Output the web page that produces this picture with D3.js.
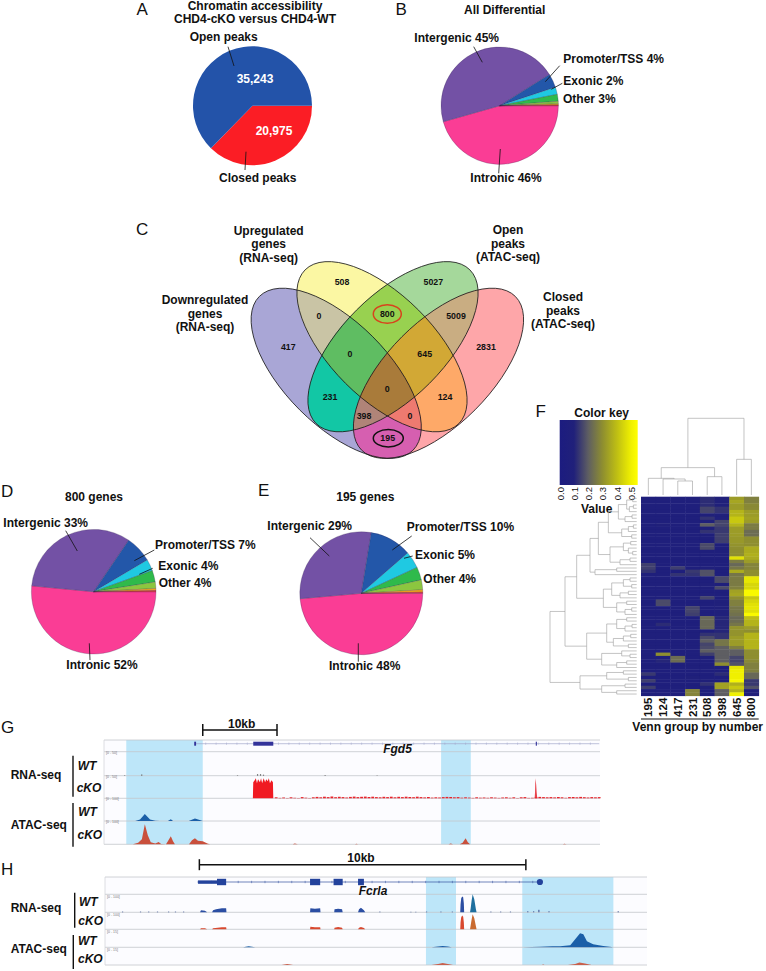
<!DOCTYPE html>
<html>
<head>
<meta charset="utf-8">
<script src="https://cdnjs.cloudflare.com/ajax/libs/d3/7.8.5/d3.min.js"></script>
<style>
body { margin: 0; background: #fff; }
text { font-family: "Liberation Sans", Arial, sans-serif; font-weight: bold; font-size: 12px; fill: #111; }
.letter { font-weight: normal; font-size: 17px; }
.count { font-size: 8.8px; }
.tiny { font-weight: normal; font-size: 3.5px; fill: #777; }
</style>
</head>
<body>
<script>
// pie slices, clockwise from 3 o'clock
var pieColors = ["#fa3d95", "#7351a5", "#2357a9", "#1fc9e2", "#2fba4b", "#8cc63f", "#f7a81b", "#ed1c24"];
var pieB = [45.6, 45.5, 3.8, 2, 1.9, 0.7, 0.3, 0.2];
var pieD = [51.5, 33, 7, 3, 3, 1.7, 0.5, 0.3];
var pieE = [48.6, 29, 11, 4.5, 3.4, 2.6, 0.6, 0.3];
var pieA = [20975, 35243];
var pieAColors = ["#fb1d25", "#2353a9"];

// venn
var vennCounts = [508, 5027, 0, 800, 5009, 417, 0, 645, 2831, 231, 0, 124, 398, 0, 195];
var vennCountPos = [[342, 282], [433.3, 282], [319, 316], [387.3, 314], [456, 316], [288.3, 346.7], [350, 354], [424.7, 354], [486, 346.7], [330, 396.7], [387.3, 388.7], [445, 396.7], [364, 416], [410, 416], [387.7, 438]];
var vennSets = ["a", "y", "g", "p"];
var vennEllipses = { a: [336.2, 373.3, 45], y: [382, 346.7, 45], g: [393, 346.7, -45], p: [438.5, 373.3, -45] };
var vennRegions = ["a", "y", "g", "p", "ay", "yg", "gp", "ag", "yp", "ap", "ayg", "ygp", "agp", "ayp", "aygp"];
var vennRegionColors = ["#a9a6d6", "#fbf7a3", "#a5d89b", "#fea6a9", "#c9c4a5", "#98d150", "#c9ad82", "#12c7a5", "#fea968", "#d65fb0", "#5fbd62", "#d2a835", "#b08478", "#ee7a70", "#a97b3a"];

// heatmap columns, 60 rows each
var heatCols = ["195", "124", "417", "231", "508", "398", "645", "800"];
var heat195 = [.07,.07,.07,.07,.07,.07,.07,.07,.07,.07,
  .07,.07,.07,.07,.07,.07,.07,.07,.07,.08,
  .15,.15,.13,.07,.07,.07,.07,.07,.07,.07,
  .07,.07,.07,.07,.07,.07,.07,.07,.07,.07,
  .07,.07,.07,.07,.07,.07,.07,.07,.07,.07,
  .07,.07,.07,.14,.07,.15,.07,.15,.07,.07];
var heat124 = [.07,.07,.07,.07,.07,.07,.07,.07,.1,.07,
  .07,.07,.07,.07,.07,.07,.07,.07,.07,.07,
  .07,.07,.07,.07,.07,.07,.07,.07,.07,.07,
  .07,.17,.17,.07,.07,.07,.07,.07,.12,.07,
  .07,.07,.07,.07,.07,.07,.07,.3,.07,.11,
  .07,.07,.07,.07,.07,.07,.07,.07,.07,.07];
var heat417 = [.07,.07,.07,.07,.07,.07,.07,.07,.07,.07,
  .07,.07,.07,.07,.07,.07,.07,.07,.07,.07,
  .07,.15,.07,.13,.07,.07,.07,.07,.07,.07,
  .07,.07,.07,.07,.07,.07,.07,.07,.07,.07,
  .07,.07,.07,.07,.07,.07,.07,.07,.23,.23,
  .07,.07,.07,.07,.07,.07,.07,.07,.07,.07];
var heat231 = [.07,.07,.07,.07,.07,.07,.07,.07,.07,.07,
  .07,.07,.07,.07,.07,.07,.07,.07,.07,.07,
  .07,.07,.14,.13,.07,.07,.07,.07,.07,.07,
  .07,.07,.07,.16,.16,.15,.07,.07,.07,.07,
  .07,.07,.07,.07,.07,.07,.07,.07,.07,.07,
  .07,.07,.07,.07,.1,.07,.07,.07,.28,.28];
var heat508 = [.12,.12,.12,.16,.16,.09,.13,.09,.2,.1,
  .13,.08,.08,.08,.17,.17,.07,.07,.07,.07,
  .07,.09,.18,.18,.08,.07,.09,.08,.07,.09,
  .16,.07,.07,.07,.07,.07,.22,.22,.22,.22,
  .09,.13,.17,.2,.16,.17,.2,.15,.09,.07,
  .07,.07,.07,.07,.07,.1,.13,.1,.07,.07];
var heat398 = [.1,.1,.1,.13,.13,.09,.09,.16,.16,.14,
  .14,.15,.15,.15,.07,.07,.07,.07,.07,.07,
  .07,.07,.07,.07,.17,.17,.07,.17,.07,.07,
  .07,.09,.09,.09,.09,.09,.11,.11,.11,.11,
  .11,.13,.13,.25,.25,.2,.2,.2,.2,.2,
  .3,.07,.07,.12,.07,.07,.34,.34,.2,.2];
var heat645 = [.33,.35,.33,.33,.38,.38,.42,.42,.38,.33,
  .33,.33,.32,.32,.31,.3,.3,.3,.47,.26,
  .22,.25,.36,.25,.26,.26,.26,.27,.34,.35,
  .3,.27,.27,.25,.25,.24,.22,.23,.25,.31,
  .31,.31,.33,.33,.33,.27,.2,.2,.16,.16,
  .18,.48,.5,.5,.5,.52,.37,.42,.38,.5];
var heat800 = [.27,.27,.29,.29,.33,.33,.34,.33,.26,.26,
  .23,.23,.3,.3,.3,.36,.36,.37,.36,.33,
  .28,.28,.3,.3,.48,.48,.45,.45,.53,.53,
  .42,.45,.47,.48,.47,.53,.4,.38,.38,.33,
  .3,.38,.38,.38,.38,.38,.3,.3,.3,.29,
  .27,.27,.27,.22,.22,.14,.14,.18,.09,.09];
var heatData = [heat195, heat124, heat417, heat231, heat508, heat398, heat645, heat800];
var keyTicks = [0, .1, .2, .3, .4, .5];

// dendrograms: [merge height, child, child], 0 = leaf
var colTree = [230, [82, [50, 0, [48, 0, [42, 0, 0]]], [55, 0, 0]], [107, 0, 0]];
var rowTree = [260,
  [215,
    [180,
      [140,
        [115,
          [85, [55, [30, [12, 0, 0], [22, [10, 0, 0], 0]], [35, [14, 0, 0], 0]], [45, [25, [10, 0, 0], 0], [15, 0, 0]]],
          [80, [40, [18, 0, 0], [25, 0, [12, 0, 0]]], [50, [20, 0, 0], 0]]],
        [125, [60, 0, 0], 0]],
      [100, [75, [40, [20, 0, 0], [15, 0, 0]], [50, [25, 0, 0], 0]], [60, [30, 0, 0], [35, [15, 0, 0], 0]]]],
    [150,
      [90, [60, [30, 0, 0], [35, [14, 0, 0], 0]], [70, [40, [18, 0, 0], 0], [25, 0, 0]]],
      [105, [45, 0, [20, 0, 0]], [60, [30, 0, 0], 0]]]],
  [170, [90, [40, 0, 0], [25, 0, 0]], [105, [35, 0, 0], [60, 0, 0]]]];

// panel G tracks: [kb, height]
var gShade = [[3, 13.3], [45.4, 49.4]];
var gExons = [[12.15, 12.4], [20.1, 22.8], [58.15, 58.3]];
var gRnaWt = [[2.7, .5], [5, 1.2], [17.9, .5], [20.6, 1.5], [21, 1.5], [21.4, 1], [29.7, .7], [36.7, .4]];
var gRnaKoBlock = [[20.05, 0], [20.1, 16], [20.3, 18], [20.45, 20], [20.6, 15], [20.75, 19], [21, 16], [21.15, 20], [21.3, 15], [21.5, 20], [21.7, 16], [21.85, 19], [22.05, 17], [22.2, 20], [22.35, 15], [22.55, 18], [22.75, 16], [22.8, 0]];
var gRnaKoSpike = [[58, 0], [58.05, 6], [58.1, 20], [58.2, 14], [58.27, 6], [58.35, 0]];
var gRnaKoNoise = [1, .4, .8, .3, 1, .5, .3, 1.2, .6, .3, 1, 1.4, 1, 1.6, 1.2, 1.8, 1.1, 1.5, 1.2, .8,
  1.4, 1.7, 1.2, 1.5, 1.7, 1.3, 1.6, 1.2, 1, 1.5, 1.2, 1.6, 1, 1.5, 1.2, 1.6, 1.3, 1.1, 1.6, 1.2,
  .9, 1.3, .7, 1, .8, 1.2, 1.4, 1.3, 1, 1.2, .6, 1, .7, .4, 1, .6, .8, .5, 1, .7,
  .4, .8, 1, .5, 1, .3, 1, 1.2, .4, .5, 1.1, 1.4, 1.2, 1, 1.2, .9, 1.3, 1, .5, 1.2,
  1.3, 1, 1.4, 1.1, .8, 1.2, 1, 1.2];
var gAtacWt = [[4.2, 0], [4.85, 1.5], [5.5, 7], [6.2, 1.5], [6.9, .3], [7.5, 0], [8.6, 0], [9, 1.8], [9.3, 0], [11.4, 0], [12.25, 2.5], [13.3, 0]];
var gAtacKo = [[3.9, 0], [4.6, 1.5], [5.1, 5], [5.5, 20], [5.9, 9], [6.3, 2], [6.9, .8], [7, 1], [7.35, 2.2], [7.7, .3], [8.35, 0], [8.6, 3], [9, 8], [9.3, 3], [9.55, 0],
  [11.45, 0], [11.85, 4], [12.25, 6], [12.65, 3.5], [13.3, 3], [14, .5], [14.3, 0], [25.4, 0], [25.7, .8], [26.1, 0], [33.8, 0], [34, .5], [34.2, 0],
  [46.4, 0], [46.7, .7], [47, 0], [47.9, 0], [48.3, 1.5], [48.7, 6], [49, 2], [49.3, 0], [61.8, 0], [62, .5], [62.3, 0]];

// panel H tracks: [kb, height]
var hShade = [[9.83, 10.75], [12.78, 15.57]];
var hExons = [[2.85, 3.43, 1], [3.43, 3.71, 2], [6.28, 6.59, 2], [7, 7.28, 2], [7.75, 7.93, 2]];
var hEndExon = 13.32;
var hRnaWt = [[2.91, 0], [2.94, 2], [3.06, 1.5], [3.13, 0], [3.28, 0], [3.31, 2], [3.4, 3], [3.49, 3.5], [3.58, 4], [3.71, 4], [3.72, 0],
  [6.28, 0], [6.29, 4], [6.43, 3.5], [6.59, 4], [6.6, 0], [7.02, 0], [7.03, 3], [7.14, 3.5], [7.26, 3], [7.28, 0],
  [7.75, 0], [7.78, 3], [7.84, 4.5], [7.93, 2], [7.97, 0], [10.88, 0], [10.89, 8], [10.91, 14], [10.94, 15.7], [10.97, 15], [10.99, 9], [11, 0]];
var hRnaWtPeak2 = [[11.18, 0], [11.2, 4], [11.23, 12], [11.26, 18], [11.31, 13], [11.36, 3], [11.38, 0]];
var hRnaWtNoise = [[.52, .7], [1.07, .7], [1.32, .7], [1.59, .7], [1.93, .7], [2.14, .7], [2.39, .7], [8.4, .7], [9.35, .5], [9.5, .5], [9.83, .7], [10.27, .7], [10.62, .7],
  [11.8, .7], [12.1, .7], [12.4, .7], [12.93, 1], [13.11, 1], [13.27, 2.5], [13.58, 1], [15.7, 1]];
var hRnaKo = [[2.91, 0], [2.94, 1], [3.06, 1], [3.13, 0], [3.28, 0], [3.31, 1], [3.45, 1.6], [3.58, 2], [3.71, 2], [3.72, 0],
  [6.28, 0], [6.29, 2.5], [6.43, 2], [6.59, 2], [6.6, 0], [7.02, 0], [7.03, 1.6], [7.14, 2.2], [7.26, 1.6], [7.28, 0],
  [7.75, 0], [7.78, 1.5], [7.84, 2.2], [7.93, 1.2], [7.97, 0], [10.88, 0], [10.89, 7], [10.91, 12], [10.94, 13.7], [10.97, 12.5], [10.99, 7], [11, 0]];
var hRnaKoPeak2 = [[11.18, 0], [11.2, 4], [11.23, 10], [11.26, 15], [11.31, 11], [11.36, 3], [11.38, 0]];
var hAtacWt = [[4.23, 0], [4.4, 1], [4.6, 0], [10, 0], [10.2, .8], [10.34, 1.2], [10.5, .7], [10.62, 0], [12.8, 0], [13.33, .6], [13.7, 1], [13.94, 1], [14.25, 2], [14.45, 10], [14.55, 14], [14.65, 13], [14.76, 6], [14.95, 3], [15.26, 1.2], [15.52, .3], [15.55, 0]];
var hAtacKo = [[5.41, 0], [5.58, 1], [5.76, 0], [10, 0], [10.2, 1], [10.34, 2], [10.5, 1], [10.66, 0], [13.38, 0], [13.42, .5], [13.46, 0], [14.18, 0], [14.4, 1], [14.53, 2.5], [14.7, 1.4], [14.9, 0]];
</script>
<script>
var width = 766, height = 971;
var svg = d3.select("body").append("svg")
    .attr("width", width)
    .attr("height", height)
    .style("display", "block");

function addText(parent, x, y, str, anchor, cls, style) {
    var t = parent.append("text").attr("x", x).attr("y", y)
        .attr("text-anchor", anchor || "start").text(str);
    if (cls) t.attr("class", cls);
    if (style) t.attr("style", style);
    return t;
}

function addLines(lines, w) {
    svg.append("g").selectAll("line").data(lines).enter().append("line")
        .attr("x1", function(d) { return d[0]; })
        .attr("y1", function(d) { return d[1]; })
        .attr("x2", function(d) { return d[2]; })
        .attr("y2", function(d) { return d[3]; })
        .attr("stroke", "#111")
        .attr("stroke-width", w);
}

// ---- pies ----
function drawPie(values, colors, cx, cy, r, strokeW) {
    var pie = d3.pie().sort(null).value(function(d) { return d; })
        .startAngle(Math.PI / 2).endAngle(Math.PI * 2.5);
    var arc = d3.arc().innerRadius(0).outerRadius(r);
    svg.append("g").attr("transform", "translate(" + cx + "," + cy + ")")
        .selectAll("path").data(pie(values)).enter().append("path")
        .attr("d", arc)
        .attr("fill", function(d, i) { return colors[i]; })
        .attr("stroke", "#33264d")
        .attr("stroke-width", strokeW);
}

drawPie(pieA, pieAColors, 252.5, 105.7, 59.5, 0);
drawPie(pieB, pieColors, 499.7, 105.7, 58.7, 0.25);
drawPie(pieD, pieColors, 93.7, 591.7, 62.3, 0.25);
drawPie(pieE, pieColors, 361.3, 593.3, 61.5, 0.25);

addLines([[228, 46.7, 234, 66], [246, 151.7, 245, 170],
    [473.7, 46.7, 482.3, 62.3], [559.7, 65.7, 545.3, 81.7], [562.3, 83.3, 551.3, 89.3], [500.3, 149, 498.7, 173.3],
    [65.7, 530.7, 77.3, 551], [154.3, 550, 134.3, 560.7], [152.7, 568.3, 139.3, 574.3], [89.3, 643.3, 90, 660],
    [310, 537.7, 329.3, 556], [411.7, 536, 392.3, 550], [412.7, 556, 404, 558.3], [358.3, 643.3, 358.3, 661.7]], 0.8);

var labels = [
    ["Chromatin accessibility", 255, 10, "middle"], ["CHD4-cKO versus CHD4-WT", 255, 23, "middle"],
    ["Open peaks", 223.7, 40.7, "middle"], ["Closed peaks", 257.7, 181.7, "middle"],
    ["All Differential", 504.7, 14.3, "middle"], ["Intergenic 45%", 456.7, 41.7, "middle"],
    ["Promoter/TSS 4%", 563.3, 63.3], ["Exonic 2%", 563.3, 85], ["Other 3%", 563, 102.7], ["Intronic 46%", 506, 182, "middle"],
    ["Upregulated", 268.7, 235, "middle"], ["genes", 268.7, 248.3, "middle"], ["(RNA-seq)", 268.7, 261.7, "middle"],
    ["Open", 508, 234, "middle"], ["peaks", 508, 247.6, "middle"], ["(ATAC-seq)", 508, 261, "middle"],
    ["Downregulated", 205, 304.3, "middle"], ["genes", 205, 317.7, "middle"], ["(RNA-seq)", 205, 331.3, "middle"],
    ["Closed", 563, 301, "middle"], ["peaks", 563, 314.7, "middle"], ["(ATAC-seq)", 563, 328, "middle"],
    ["800 genes", 94, 501, "middle"], ["Intergenic 33%", 3.3, 527.3], ["Promoter/TSS 7%", 155, 549.3],
    ["Exonic 4%", 158.3, 570], ["Other 4%", 158.7, 586.7], ["Intronic 52%", 102, 668.7, "middle"],
    ["195 genes", 365.3, 500.7, "middle"], ["Intergenic 29%", 267.3, 530], ["Promoter/TSS 10%", 406.7, 530.7],
    ["Exonic 5%", 415, 559.3], ["Other 4%", 423.3, 582.7], ["Intronic 48%", 364.7, 670, "middle"],
    ["Color key", 601.7, 417, "middle"], ["Value", 596.7, 512.7, "middle"], ["Venn group by number", 697.7, 730.7, "middle"],
    ["10kb", 241.7, 727.5, "middle"], ["RNA-seq", 10.7, 779], ["ATAC-seq", 10.7, 828.5],
    ["10kb", 361, 862, "middle"], ["RNA-seq", 10.7, 912], ["ATAC-seq", 10.7, 953]
];
labels.forEach(function(d) { addText(svg, d[1], d[2], d[0], d[3]); });

addText(svg, 255, 82.7, "35,243", "middle", null, "fill:#fff");
addText(svg, 274, 135, "20,975", "middle", null, "fill:#fff");

var letters = [["A", 136.5, 15], ["B", 395.5, 15], ["C", 136, 235], ["D", 1, 496.7], ["E", 258, 496], ["F", 535.5, 417.3], ["G", 1, 733], ["H", 1, 875]];
letters.forEach(function(d) { addText(svg, d[1], d[2], d[0], "start", "letter"); });

// ---- venn ----
var defs = svg.append("defs");
function ellipseAttrs(sel, k) {
    var e = vennEllipses[k];
    sel.attr("cx", e[0]).attr("cy", e[1]).attr("rx", 108.7).attr("ry", 51.7)
        .attr("transform", "rotate(" + e[2] + " " + e[0] + " " + e[1] + ")");
}
vennSets.forEach(function(k) {
    defs.append("clipPath").attr("id", "clip-" + k).append("ellipse").call(ellipseAttrs, k);
});
var venn = svg.append("g");
vennRegions.forEach(function(r, i) {
    var holder = venn;
    r.split("").forEach(function(k) { holder = holder.append("g").attr("clip-path", "url(#clip-" + k + ")"); });
    holder.append("rect").attr("x", 240).attr("y", 250).attr("width", 300).attr("height", 220)
        .attr("fill", vennRegionColors[i]);
});
vennSets.forEach(function(k) {
    venn.append("ellipse").call(ellipseAttrs, k).attr("fill", "none").attr("stroke", "#1a1a1a").attr("stroke-width", 0.8);
});
vennCounts.forEach(function(c, i) {
    addText(venn, vennCountPos[i][0], vennCountPos[i][1] + 3, c, "middle", "count");
});
venn.append("ellipse").attr("cx", 387.3).attr("cy", 314).attr("rx", 14).attr("ry", 9.3)
    .attr("fill", "none").attr("stroke", "#d8431c").attr("stroke-width", 1.5);
venn.append("ellipse").attr("cx", 388.3).attr("cy", 438.3).attr("rx", 15).attr("ry", 8.7)
    .attr("fill", "none").attr("stroke", "#111").attr("stroke-width", 1.5);

// ---- heatmap ----
var heatColor = d3.scaleLinear()
    .domain([0, .1, .2, .3, .4, .5, .55])
    .range(["#1c1c80", "#20207a", "#5e5e62", "#8e8e30", "#bebe14", "#f0f000", "#ffff00"])
    .clamp(true);
var colBand = d3.scaleBand().domain(heatCols).range([641, 758.7]);
var rowBand = d3.scaleBand().domain(d3.range(60)).range([496.7, 695.7]);

var heatGroup = svg.append("g").style("filter", "blur(0.5px)");
heatData.forEach(function(col, c) {
    heatGroup.append("g").selectAll("rect").data(col).enter().append("rect")
        .attr("x", colBand(heatCols[c]))
        .attr("y", function(d, i) { return rowBand(i); })
        .attr("width", colBand.bandwidth() + 0.4)
        .attr("height", rowBand.bandwidth() + 0.4)
        .attr("fill", function(d) { return heatColor(d); });
});

var colAxis = svg.append("g").attr("transform", "translate(0,695.7)")
    .call(d3.axisBottom(colBand).tickSize(0));
colAxis.select(".domain").remove();
colAxis.selectAll("text").attr("transform", "rotate(-90)")
    .attr("x", -2).attr("y", 0).attr("dy", "0.35em")
    .attr("text-anchor", "end").style("font-size", "11.5px").style("font-family", "Liberation Sans");
svg.append("line").attr("x1", 641).attr("x2", 758.7).attr("y1", 719).attr("y2", 719)
    .attr("stroke", "#111").attr("stroke-width", 1.2);

// colour key
var keyScale = d3.scaleLinear().domain([0, .5]).range([559.7, 631]);
var grad = defs.append("linearGradient").attr("id", "key-grad");
d3.range(0, 0.56, 0.05).forEach(function(v) {
    grad.append("stop").attr("offset", (keyScale(v) - 559.7) / 78).attr("stop-color", heatColor(v));
});
svg.append("rect").attr("x", 559.7).attr("y", 420).attr("width", 78).attr("height", 65).attr("fill", "url(#key-grad)");
var keyAxis = svg.append("g").attr("transform", "translate(0,485)")
    .call(d3.axisBottom(keyScale).tickValues(keyTicks).tickSize(0).tickFormat(d3.format(".1f")));
keyAxis.select(".domain").remove();
keyAxis.selectAll("text").attr("transform", "rotate(-90)")
    .attr("x", -2).attr("y", 0).attr("dy", "0.35em")
    .attr("text-anchor", "end")
    .style("font-size", "9.5px").style("font-weight", "normal").style("font-family", "Liberation Sans");

// dendrograms
function toNode(n) {
    return n === 0 ? { h: 0 } : { h: n[0], children: [toNode(n[1]), toNode(n[2])] };
}
function drawDendro(tree, leafPos, toPath) {
    var root = d3.hierarchy(toNode(tree));
    var idx = 0;
    root.eachAfter(function(d) {
        if (!d.children) { d.pos = leafPos(idx++); }
        else { d.pos = (d.children[0].pos + d.children[1].pos) / 2; }
    });
    svg.append("g").selectAll("path").data(root.descendants().filter(function(d) { return d.children; }))
        .enter().append("path")
        .attr("d", toPath)
        .attr("fill", "none")
        .attr("stroke", "#9c9c9c")
        .attr("stroke-width", 0.6);
}
var rowDist = d3.scaleLinear().domain([0, 260]).range([636.7, 550]);
drawDendro(rowTree, function(i) { return rowBand(i) + rowBand.bandwidth() / 2; }, function(d) {
    var a = d.children[0], b = d.children[1];
    return "M" + rowDist(a.data.h) + "," + a.pos + "H" + rowDist(d.data.h) + "V" + b.pos + "H" + rowDist(b.data.h);
});
var colDist = d3.scaleLinear().domain([0, 230]).range([495, 418.3]);
drawDendro(colTree, function(i) { return colBand(heatCols[i]) + colBand.bandwidth() / 2; }, function(d) {
    var a = d.children[0], b = d.children[1];
    return "M" + a.pos + "," + colDist(a.data.h) + "V" + colDist(d.data.h) + "H" + b.pos + "V" + colDist(b.data.h);
});

// ---- genome tracks ----
function drawPanel(x, baselines, top, shades) {
    var g = svg.append("g");
    var x0 = x.range()[0], x1 = x.range()[1], bottom = baselines[baselines.length - 1];
    g.append("rect").attr("x", x0).attr("y", top).attr("width", x1 - x0).attr("height", bottom - top).attr("fill", "#fcfcff");
    g.selectAll(".shade").data(shades).enter().append("rect").attr("class", "shade")
        .attr("x", function(d) { return x(d[0]); })
        .attr("y", top)
        .attr("width", function(d) { return x(d[1]) - x(d[0]); })
        .attr("height", bottom - top)
        .attr("fill", "#bde6f9");
    g.selectAll(".base").data([top].concat(baselines)).enter().append("line").attr("class", "base")
        .attr("x1", x0).attr("x2", x1)
        .attr("y1", function(d) { return d; }).attr("y2", function(d) { return d; })
        .attr("stroke", "#c4c6cc").attr("stroke-width", 0.8);
    g.append("line").attr("x1", x0).attr("x2", x0).attr("y1", top).attr("y2", bottom)
        .attr("stroke", "#d4d5da").attr("stroke-width", 0.8);
    return g;
}
function drawTrack(g, x, base, points, color) {
    var y = d3.scaleLinear().domain([0, 20]).range([base, base - 20]);
    var area = d3.area().x(function(d) { return x(d[0]); }).y0(base).y1(function(d) { return y(d[1]); });
    g.append("path").attr("d", area(points)).attr("fill", color);
}
function drawSpikes(g, x, base, points, color, w) {
    var y = d3.scaleLinear().domain([0, 20]).range([base, base - 20]);
    g.selectAll(null).data(points).enter().append("rect")
        .attr("x", function(d) { return x(d[0]); })
        .attr("y", function(d) { return y(d[1]); })
        .attr("width", w)
        .attr("height", function(d) { return base - y(d[1]); })
        .attr("fill", color);
}
function drawGeneLine(g, x, from, to, y, step, color) {
    g.append("line").attr("x1", x(from)).attr("x2", x(to)).attr("y1", y).attr("y2", y)
        .attr("stroke", color).attr("stroke-width", 0.7);
    g.selectAll(null).data(d3.range(from, to, step)).enter().append("line")
        .attr("x1", function(d) { return x(d); }).attr("x2", function(d) { return x(d); })
        .attr("y1", y - 1.2).attr("y2", y + 1.2)
        .attr("stroke", color).attr("stroke-width", 0.5);
}
function scaleBar(x, from, to, y, tick) {
    addLines([[x(from), y, x(to), y], [x(from), y - tick, x(from), y + tick], [x(to), y - tick, x(to), y + tick]], 1.5);
}

// panel G
var gx = d3.scaleLinear().domain([0, 66.8]).range([104, 600]);
var gBase = [751.7, 775.7, 798.3, 821, 844.3];
var gp = drawPanel(gx, gBase, 740, gShade);
drawGeneLine(gp, gx, 12.3, 66.7, 743.7, 1.4, "#a4a8cc");
gp.selectAll(null).data(gExons).enter().append("rect")
    .attr("x", function(d) { return gx(d[0]); })
    .attr("y", 741.7)
    .attr("width", function(d) { return gx(d[1]) - gx(d[0]); })
    .attr("height", 4)
    .attr("fill", "#33339a");
drawSpikes(gp, gx, gBase[1], gRnaWt, "#666", 1.2);
drawTrack(gp, gx, gBase[2], gRnaKoBlock, "#f01a22");
drawTrack(gp, gx, gBase[2], gRnaKoSpike, "#e8414a");
drawSpikes(gp, gx, gBase[2], gRnaKoNoise.map(function(h, i) { return [23 + i * 0.5, h]; }), "#e8232b", 2.8);
drawTrack(gp, gx, gBase[3], gAtacWt, "#1b5fa8");
drawTrack(gp, gx, gBase[4], gAtacKo, "#c9503c");
addText(svg, 397.5, 752.5, "Fgd5", "middle", null, "font-style:italic");
scaleBar(gx, 13.3, 23.3, 730, 6);

// panel H
var hx = d3.scaleLinear().domain([0, 16.6]).range([105, 647]);
var hBase = [894.3, 912.3, 929.3, 947.3, 965];
var hp = drawPanel(hx, hBase, 877, hShade);
drawGeneLine(hp, hx, 2.85, 13.3, 882, 0.41, "#33509f");
hp.selectAll(null).data(hExons).enter().append("rect")
    .attr("x", function(d) { return hx(d[0]); })
    .attr("y", function(d) { return d[2] === 1 ? 880.4 : 878.8; })
    .attr("width", function(d) { return hx(d[1]) - hx(d[0]); })
    .attr("height", function(d) { return d[2] === 1 ? 3.4 : 6.4; })
    .attr("fill", "#23429c");
hp.append("circle").attr("cx", hx(hEndExon)).attr("cy", 882).attr("r", 3.1).attr("fill", "#23429c");
drawTrack(hp, hx, hBase[1], hRnaWt, "#2b4ea3");
drawTrack(hp, hx, hBase[1], hRnaWtPeak2, "#1f6f9f");
drawSpikes(hp, hx, hBase[1], hRnaWtNoise, "#4a5f9a", 1.2);
drawTrack(hp, hx, hBase[2], hRnaKo, "#d8482f");
drawTrack(hp, hx, hBase[2], hRnaKoPeak2, "#c96a30");
drawTrack(hp, hx, hBase[3], hAtacWt, "#1b5fa8");
drawTrack(hp, hx, hBase[4], hAtacKo, "#c9604c");
addText(svg, 373, 895, "Fcrla", "middle", null, "font-style:italic");
scaleBar(hx, 2.89, 12.89, 864.7, 5.5);

// sample labels and brackets
var sampleLabels = [["WT", 77.7, 770], ["cKO", 76.7, 792], ["WT", 78.3, 815.7], ["cKO", 77.5, 839],
    ["WT", 79, 906], ["cKO", 78.3, 925], ["WT", 78, 944.7], ["cKO", 78, 962.7]];
sampleLabels.forEach(function(d) { addText(svg, d[1], d[2], d[0], "start", null, "font-style:italic"); });
var brackets = [[73, 755.7, 796.7], [73, 803, 846.7], [74.7, 892.7, 927.7], [73.3, 935, 969]];
svg.append("g").selectAll("line").data(brackets).enter().append("line")
    .attr("x1", function(d) { return d[0]; }).attr("x2", function(d) { return d[0]; })
    .attr("y1", function(d) { return d[1]; }).attr("y2", function(d) { return d[2]; })
    .attr("stroke", "#111").attr("stroke-width", 1.4);

var rangeLabels = [["[0 - 50]", 106, 753.5], ["[0 - 50]", 106, 777.5], ["[0 - 100]", 106, 800], ["[0 - 100]", 106, 823],
    ["[0 - 100]", 107, 898], ["[0 - 100]", 107, 916], ["[0 - 15]", 107, 933], ["[0 - 15]", 107, 951]];
rangeLabels.forEach(function(d) { addText(svg, d[1], d[2], d[0], "start", "tiny"); });
</script>
</body>
</html>
